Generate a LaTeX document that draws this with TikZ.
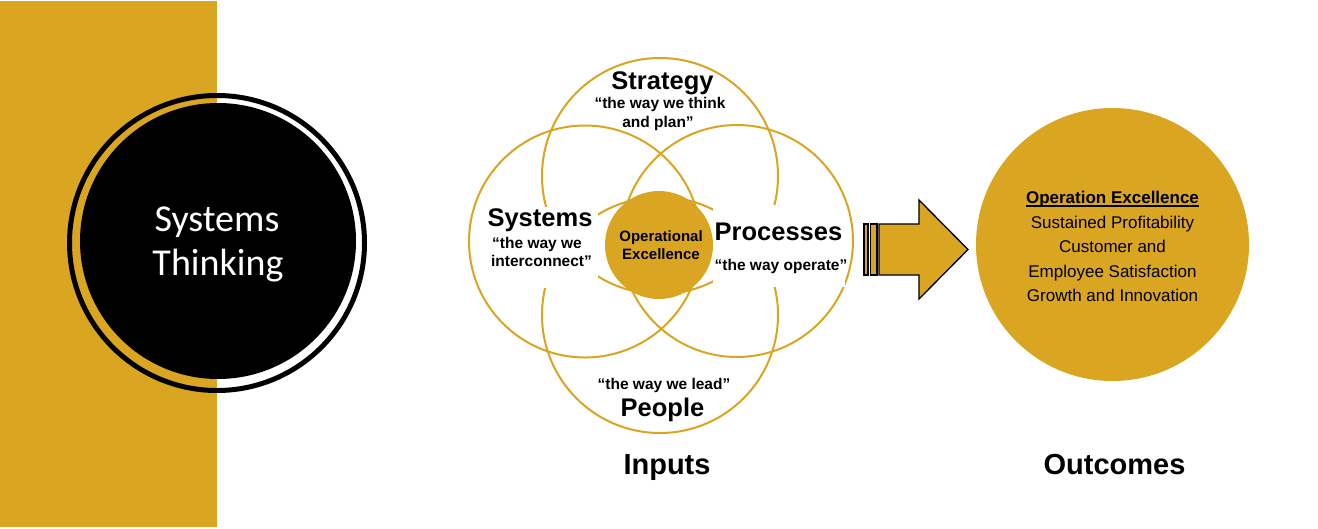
\documentclass[tikz,border=0pt]{standalone}
\usepackage{fontspec}
\setmainfont{Liberation Sans}
\newfontfamily\carlito{Carlito}
\definecolor{gold}{RGB}{218,165,32}
\newcommand\myul[1]{\setbox0\hbox{#1}\rlap{\rule[-3.8pt]{\wd0}{1.4pt}}\box0}
\begin{document}
\begin{tikzpicture}[x=1pt,y=-1pt,
  lbl/.style={anchor=base,inner sep=0pt,outer sep=0pt},
  head/.style={lbl,font=\fontsize{25.5}{30}\selectfont\bfseries},
  sub/.style={lbl,font=\fontsize{15.5}{18}\selectfont\bfseries},
  ctr/.style={lbl,font=\fontsize{15}{18}\selectfont\bfseries},
  outtxt/.style={lbl,font=\fontsize{17}{24}\selectfont},
  big/.style={lbl,font=\fontsize{29}{34}\selectfont\bfseries},
  venn/.style={circle,draw=gold,line width=2pt,inner sep=0pt,minimum size=#1},
  disk/.style={circle,fill=gold,draw=none,inner sep=0pt,minimum size=#1}
]
\useasboundingbox (0,0) rectangle (1318,528);
% left band
\fill[gold] (0,1) rectangle (217,527);
% left circle
\node[circle,draw=black,line width=5pt,inner sep=0pt,minimum size=295pt] (ring) at (217,243) {};
\node[circle,fill=black,inner sep=0pt,minimum size=276pt] (core) at (218,241) {};
\node[lbl,text=white,font=\carlito\fontsize{38}{44}\selectfont] (st1) at (217,231) {Systems};
\node[lbl,text=white,font=\carlito\fontsize{38}{44}\selectfont] (st2) at (218,275) {Thinking};
% Venn circles
\node[venn=236pt] (cstrat) at (660,176) {};
\node[venn=236pt] (cpeople) at (660,315) {};
\node[venn=232pt] (csys) at (585,241.5) {};
\node[venn=232pt] (cproc) at (737,241) {};
\node[disk=108pt] (cexc) at (659,245) {};
% masks behind side labels
\fill[white] (484,207) rectangle (598,288);
\fill[white] (713,205) rectangle (845,287);
% labels
\node[head] (strat) at (662.5,89) {Strategy};
\node[sub] (strat1) at (660,108) {“the way we think};
\node[sub] (strat2) at (658,127) {and plan”};
\node[head] (sys) at (540,226) {Systems};
\node[sub] (sys1) at (537,248.5) {“the way we};
\node[sub] (sys2) at (541.5,266.5) {interconnect”};
\node[head] (proc) at (778.5,240) {Processes};
\node[sub] (proc1) at (781,270.5) {“the way operate”};
\node[ctr] (exc1) at (661,241.5) {Operational};
\node[ctr] (exc2) at (661,259) {Excellence};
\node[sub] (peop1) at (664,389) {“the way we lead”};
\node[head] (peop) at (662.5,416.5) {People};
\node[big] (inputs) at (667,474) {Inputs};
% arrow
\draw[fill=gold,line width=1.3pt] (864,224) rectangle (868,275);
\draw[fill=gold,line width=1.3pt] (870.5,224) rectangle (877,275);
\draw[fill=gold,line width=1.3pt,line join=miter] (879,224) -- (919,224) -- (919,200) -- (968,249.5) -- (919,299) -- (919,275) -- (879,275) -- cycle;
% outcome circle
\node[disk=273pt] (outc) at (1112.5,244.5) {};
\node[outtxt,font=\fontsize{17}{24}\selectfont\bfseries] (o1) at (1112.5,203) {\myul{Operation Excellence}};
\node[outtxt] (o2) at (1112.5,228) {Sustained Profitability};
\node[outtxt] (o3) at (1112.5,252.5) {Customer and};
\node[outtxt] (o4) at (1112.5,277) {Employee Satisfaction};
\node[outtxt] (o5) at (1112.5,301) {Growth and Innovation};
\node[big] (outcomes) at (1114.5,474) {Outcomes};
\end{tikzpicture}
\end{document}
